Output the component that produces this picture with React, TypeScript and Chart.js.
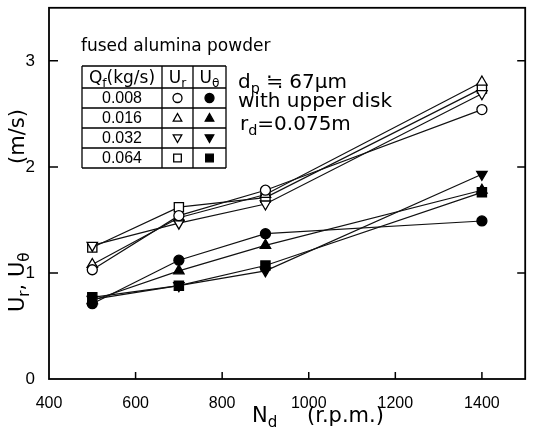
import React, { useEffect, useRef } from 'react';
import { Chart, registerables } from 'chart.js';

Chart.register(...registerables);

// ---- data ----
const rpm = [500, 700, 900, 1400];
const qfLabels = ['0.008', '0.016', '0.032', '0.064'];
// Ur (open markers)
const urQ008 = [1.03, 1.54, 1.78, 2.54];
const urQ016 = [1.08, 1.52, 1.74, 2.8];
const urQ032 = [1.26, 1.47, 1.65, 2.69];
const urQ064 = [1.24, 1.62, 1.71, 2.74];
// Utheta (filled markers)
const utQ008 = [0.71, 1.12, 1.37, 1.49];
const utQ016 = [0.74, 1.02, 1.26, 1.78];
const utQ032 = [0.75, 0.88, 1.02, 1.93];
const utQ064 = [0.77, 0.88, 1.07, 1.76];

const xTicks = [400, 600, 800, 1000, 1200, 1400];
const yTicks = [0, 1, 2, 3];

const TXT = '"DejaVu Sans", "Noto Sans", sans-serif';
const TICKF = '"Liberation Sans", Arial, sans-serif';
const INK = '#000';

type Shape = 'circle' | 'up' | 'down' | 'rect';
const shapes: Shape[] = ['circle', 'up', 'down', 'rect'];

function styleFor(s: Shape) {
  if (s === 'circle') return { pointStyle: 'circle', rot: 0, r: 5 };
  if (s === 'up') return { pointStyle: 'triangle', rot: 0, r: 6 };
  if (s === 'down') return { pointStyle: 'triangle', rot: 180, r: 6 };
  return { pointStyle: 'rect', rot: 0, r: 6.5 };
}

function makeDs(label: string, vals: number[], s: Shape, filled: boolean) {
  const st = styleFor(s);
  return {
    label,
    data: rpm.map((x, i) => ({ x, y: vals[i] })),
    borderColor: '#111',
    borderWidth: 1.2,
    pointStyle: st.pointStyle,
    pointRotation: st.rot,
    pointRadius: st.r,
    pointBorderColor: INK,
    pointBorderWidth: 1.3,
    pointBackgroundColor: filled ? INK : '#fff',
    tension: 0,
    fill: false,
  };
}

function drawMarker(ctx: CanvasRenderingContext2D, s: Shape, x: number, y: number, r: number, filled: boolean) {
  ctx.save();
  ctx.beginPath();
  if (s === 'circle') {
    ctx.arc(x, y, r, 0, Math.PI * 2);
  } else if (s === 'up') {
    ctx.moveTo(x, y - r);
    ctx.lineTo(x + r * 0.95, y + r * 0.7);
    ctx.lineTo(x - r * 0.95, y + r * 0.7);
    ctx.closePath();
  } else if (s === 'down') {
    ctx.moveTo(x, y + r);
    ctx.lineTo(x + r * 0.95, y - r * 0.7);
    ctx.lineTo(x - r * 0.95, y - r * 0.7);
    ctx.closePath();
  } else {
    ctx.rect(x - r * 0.85, y - r * 0.85, r * 1.7, r * 1.7);
  }
  ctx.lineWidth = 1.3;
  ctx.strokeStyle = INK;
  ctx.fillStyle = filled ? INK : '#fff';
  ctx.fill();
  ctx.stroke();
  ctx.restore();
}

type Part = [string, boolean];
function richWidth(ctx: CanvasRenderingContext2D, parts: Part[], size: number, fam: string) {
  let w = 0;
  for (const [t, sub] of parts) {
    ctx.font = `${sub ? size * 0.72 : size}px ${fam}`;
    w += ctx.measureText(t).width;
  }
  return w;
}
function drawRich(ctx: CanvasRenderingContext2D, x: number, y: number, parts: Part[], size: number, fam: string, center = false) {
  let cx = center ? x - richWidth(ctx, parts, size, fam) / 2 : x;
  ctx.textAlign = 'left';
  ctx.textBaseline = 'alphabetic';
  for (const [t, sub] of parts) {
    ctx.font = `${sub ? size * 0.72 : size}px ${fam}`;
    ctx.fillText(t, cx, y + (sub ? size * 0.25 : 0));
    cx += ctx.measureText(t).width;
  }
}

const decorPlugin = {
  id: 'decor',
  afterDraw(chart: any) {
    const { ctx, chartArea: a, scales } = chart;
    const xs = scales.x;
    const ys = scales.y;
    ctx.save();
    ctx.fillStyle = INK;
    ctx.strokeStyle = INK;
    // frame
    ctx.lineWidth = 1.8;
    ctx.strokeRect(a.left, a.top, a.right - a.left, a.bottom - a.top);
    // inner ticks
    ctx.lineWidth = 1.5;
    ctx.beginPath();
    for (const v of xTicks.slice(1)) {
      const px = xs.getPixelForValue(v);
      ctx.moveTo(px, a.bottom);
      ctx.lineTo(px, a.bottom - 7);
    }
    for (const v of yTicks.slice(1)) {
      const py = ys.getPixelForValue(v);
      ctx.moveTo(a.left, py);
      ctx.lineTo(a.left + 9, py);
      ctx.moveTo(a.right, py);
      ctx.lineTo(a.right - 8, py);
    }
    ctx.stroke();

    // x title
    drawRich(ctx, 252, 422, [['N', false], ['d', true]], 21, TXT);
    ctx.font = `21px ${TXT}`;
    ctx.fillText('(r.p.m.)', 307, 422);

    // y title (rotated)
    ctx.save();
    ctx.translate(24, 312);
    ctx.rotate(-Math.PI / 2);
    drawRich(ctx, 0, 0, [['U', false], ['r', true], [', U', false], ['θ', true]], 21, TXT);
    ctx.font = `21px ${TXT}`;
    ctx.fillText('(m/s)', 148, 0);
    ctx.restore();

    // annotation
    ctx.font = `17px ${TXT}`;
    ctx.textAlign = 'left';
    ctx.fillText('fused alumina powder', 81, 51);

    drawRich(ctx, 238, 88, [['d', false], ['p', true], [' ≒ 67μm', false]], 20, TXT);
    ctx.font = `20px ${TXT}`;
    ctx.fillText('with upper disk', 238, 107);
    drawRich(ctx, 240, 130, [['r', false], ['d', true], ['=0.075m', false]], 20, TXT);

    // table
    const rows = [66, 88, 108, 128, 148, 168];
    const cols = [82, 162, 193, 226];
    ctx.lineWidth = 1.3;
    ctx.beginPath();
    for (const r of rows) {
      ctx.moveTo(cols[0], r);
      ctx.lineTo(cols[3], r);
    }
    for (const c of cols) {
      ctx.moveTo(c, rows[0]);
      ctx.lineTo(c, rows[5]);
    }
    ctx.stroke();
    drawRich(ctx, (cols[0] + cols[1]) / 2, 83, [['Q', false], ['f', true], ['(kg/s)', false]], 17, TXT, true);
    drawRich(ctx, (cols[1] + cols[2]) / 2, 83, [['U', false], ['r', true]], 17, TXT, true);
    drawRich(ctx, (cols[2] + cols[3]) / 2, 83, [['U', false], ['θ', true]], 17, TXT, true);
    for (let i = 0; i < 4; i++) {
      const cy = (rows[i + 1] + rows[i + 2]) / 2;
      ctx.font = `16px ${TICKF}`;
      ctx.textAlign = 'center';
      ctx.textBaseline = 'middle';
      ctx.fillText(qfLabels[i], (cols[0] + cols[1]) / 2, cy + 1);
      drawMarker(ctx, shapes[i], (cols[1] + cols[2]) / 2, cy, 4.5, false);
      drawMarker(ctx, shapes[i], (cols[2] + cols[3]) / 2, cy, 4.5, true);
    }
    ctx.restore();
  },
};

export default function App() {
  const ref = useRef<HTMLCanvasElement>(null);
  useEffect(() => {
    if (!ref.current) return;
    const datasets = [
      makeDs('Ur 0.008', urQ008, 'circle', false),
      makeDs('Ur 0.016', urQ016, 'up', false),
      makeDs('Ur 0.032', urQ032, 'down', false),
      makeDs('Ur 0.064', urQ064, 'rect', false),
      makeDs('Uθ 0.008', utQ008, 'circle', true),
      makeDs('Uθ 0.016', utQ016, 'up', true),
      makeDs('Uθ 0.032', utQ032, 'down', true),
      makeDs('Uθ 0.064', utQ064, 'rect', true),
    ];
    const chart = new Chart(ref.current, {
      type: 'line',
      data: { datasets } as any,
      options: {
        responsive: false,
        animation: false,
        layout: { padding: { left: 0, top: 6, right: 7, bottom: 0 } },
        plugins: { legend: { display: false }, tooltip: { enabled: false } },
        scales: {
          x: {
            type: 'linear',
            min: 400,
            max: 1500,
            afterBuildTicks: (s: any) => {
              s.ticks = xTicks.map((v) => ({ value: v }));
            },
            afterFit: (s: any) => {
              s.height = 52;
              s.paddingLeft = 0;
              s.paddingRight = 0;
            },
            ticks: {
              color: INK,
              font: { family: TICKF, size: 16 },
              padding: 7,
              maxRotation: 0,
              callback: (v: any) => String(v),
            },
            grid: { display: false },
            border: { display: false },
          },
          y: {
            type: 'linear',
            min: 0,
            max: 3.5,
            afterBuildTicks: (s: any) => {
              s.ticks = yTicks.map((v) => ({ value: v }));
            },
            afterFit: (s: any) => {
              s.width = 49;
              s.paddingTop = 0;
              s.paddingBottom = 0;
            },
            ticks: { color: INK, font: { family: TICKF, size: 17 }, padding: 6, callback: (v: any) => String(v) },
            grid: { display: false },
            border: { display: false },
          },
        },
      } as any,
      plugins: [decorPlugin],
    });
    return () => chart.destroy();
  }, []);
  return (
    <div style={{ position: 'absolute', left: 0, top: 0, width: 533, height: 431, background: '#fff' }}>
      <canvas ref={ref} width={533} height={431} style={{ width: 533, height: 431 }} />
    </div>
  );
}
